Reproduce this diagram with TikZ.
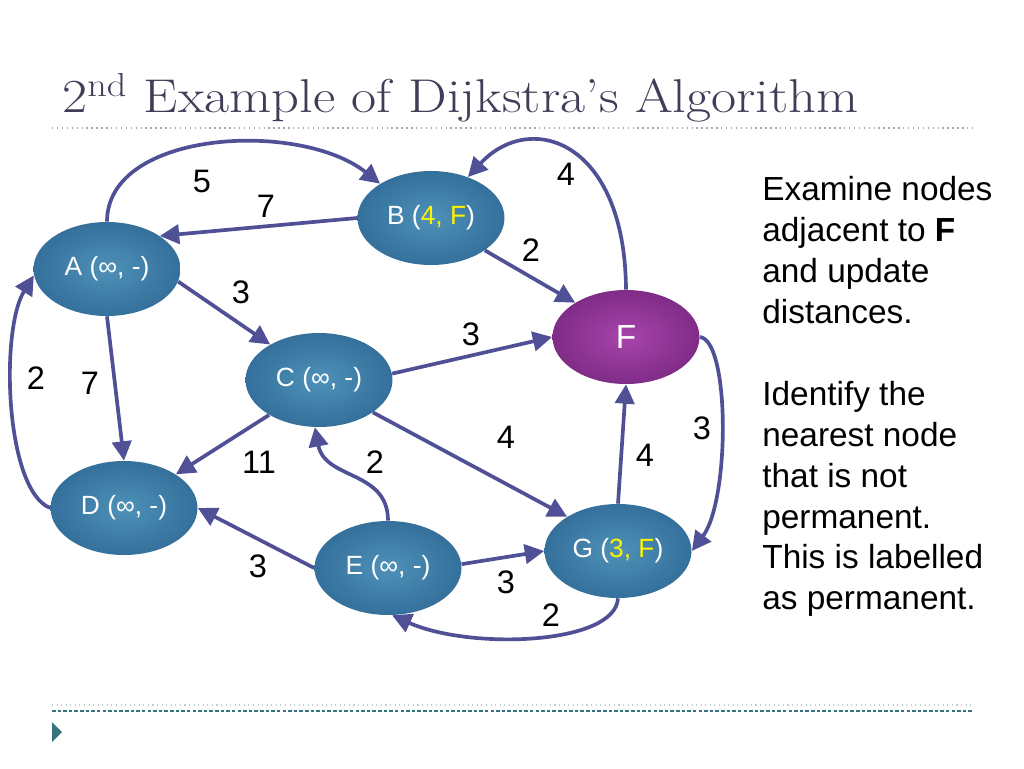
\documentclass[tikz,border=0pt]{standalone}
\usepackage{fontspec}
\newfontfamily\arialfont{Liberation Sans}
\usetikzlibrary{shapes.geometric, arrows.meta, positioning}
\definecolor{nodeblue}{RGB}{78,145,185}
\definecolor{nodeblueedge}{RGB}{52,112,155}
\definecolor{permpurple}{RGB}{168,68,172}
\definecolor{permpurpleedge}{RGB}{128,44,135}
\definecolor{edgeblue}{RGB}{80,80,150}
\definecolor{titlegrey}{RGB}{62,62,88}
\definecolor{ruleteal}{RGB}{150,175,175}
\definecolor{bulletteal}{RGB}{55,115,125}

\begin{document}
\begin{tikzpicture}[x=0.02cm, y=-0.02cm,
    vertex/.style={ellipse, inner sep=0pt, minimum width=2.94cm, minimum height=1.88cm,
                   inner color=nodeblue, outer color=nodeblueedge, text=white,
                   font=\arialfont\fontsize{15}{17}\selectfont},
    permvertex/.style={vertex, inner color=permpurple, outer color=permpurpleedge,
                   font=\arialfont\fontsize{19}{21}\selectfont},
    link/.style={-{Triangle[length=11pt,width=11pt]}, line width=2.1pt, color=edgeblue},
    weight/.style={font=\arialfont\fontsize{18.5}{20}\selectfont, inner sep=0pt},
  ]
  \useasboundingbox (0,0) rectangle (1024,768);

  % title and rules
  \node[anchor=base west, inner sep=0pt, text=titlegrey,
        font=\fontsize{27}{32}\selectfont] (title) at (62,112)
        {\scalebox{1.15}[1]{2\textsuperscript{nd} Example of Dijkstra's Algorithm}};
  \draw[ruleteal, dotted, line width=0.8pt] (52,128) -- (972,128);
  \draw[ruleteal!60, dotted, line width=0.6pt] (52,705) -- (972,705);
  \draw[bulletteal, dash pattern=on 2pt off 1.2pt, line width=0.6pt] (52,711) -- (972,711);
  \fill[bulletteal] (52,722) -- (62,732) -- (52,742) -- cycle;

  % vertices
  \node[vertex] (A) at (107,269) {A (∞, -)};
  \node[vertex] (B) at (431,218) {B (\textcolor{yellow}{4, F})};
  \node[vertex] (C) at (319,380) {C (∞, -)};
  \node[vertex] (D) at (124,508) {D (∞, -)};
  \node[vertex] (E) at (388,568) {E (∞, -)};
  \node[vertex] (G) at (618,551) {G (\textcolor{yellow}{3, F})};
  \node[permvertex] (F) at (626,337) {F};

  % edges
  \draw[link] (A.north) .. controls (107,130) and (300,120) .. (B.146);
  \draw[link] (B.west) -- (A.32);
  \draw[link] (A.-10) -- (C.144);
  \draw[link] (A.south) -- (D.north);
  \draw[link] (D.west) .. controls (5,490) and (0,330) .. (A.185);
  \draw[link] (B.-31) -- (F.146);
  \draw[link] (F.north) .. controls (625,140) and (530,110) .. (B.48);
  \draw[link] (C.5) -- (F.west);
  \draw[link] (C.215) -- (D.33);
  \draw[link] (C.-31) -- (G.146);
  \draw[link] (E.north) .. controls (388,470) and (325,480) .. (C.265);
  \draw[link] (E.west) -- (D.east);
  \draw[link] (E.3) -- (G.west);
  \draw[link] (G.north) -- (F.south);
  \draw[link] (F.east) .. controls (730,340) and (730,500) .. (G.east);
  \draw[link] (G.south) .. controls (615,645) and (470,650) .. (E.275);

  % weights
  \node[weight] (wAB) at (202,181) {5};
  \node[weight] (wBA) at (266,206) {7};
  \node[weight] (wAC) at (241,292) {3};
  \node[weight] (wFB) at (566,174) {4};
  \node[weight] (wBF) at (531,250) {2};
  \node[weight] (wCF) at (471,334) {3};
  \node[weight] (wDA) at (36,378) {2};
  \node[weight] (wAD) at (90,383) {7};
  \node[weight] (wCD) at (259,462) {11};
  \node[weight] (wEC) at (375,462) {2};
  \node[weight] (wCG) at (506,437) {4};
  \node[weight] (wFG) at (702,428) {3};
  \node[weight] (wGF) at (645,455) {4};
  \node[weight] (wED) at (258,566) {3};
  \node[weight] (wEG) at (506,582) {3};
  \node[weight] (wGE) at (551,615) {2};

  % notes
  \node[anchor=north west, align=left, inner sep=0pt,
        font=\arialfont\fontsize{19}{23.3}\selectfont] (note) at (762,176)
        {Examine nodes\\adjacent to \textbf{F}\\and update\\distances.\\[23.3pt]
         Identify the\\nearest node\\that is not\\permanent.\\This is labelled\\as permanent.};
\end{tikzpicture}
\end{document}
